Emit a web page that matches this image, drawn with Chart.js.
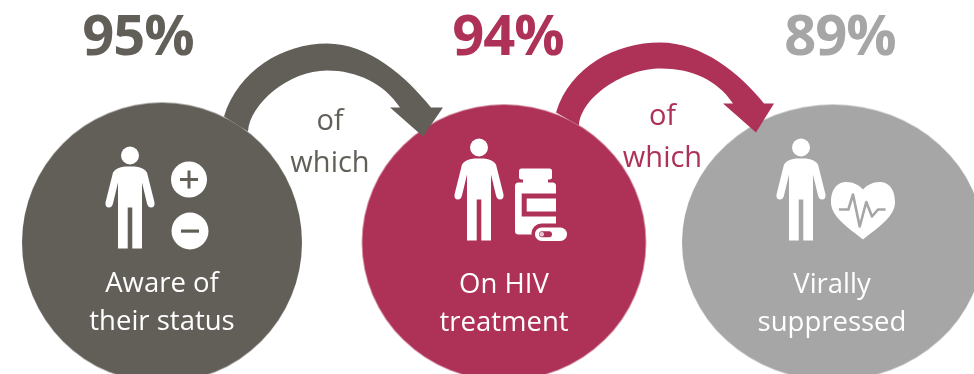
<!DOCTYPE html>
<html>
<head>
<meta charset="utf-8">
<title>HIV care cascade</title>
<script src="https://cdn.jsdelivr.net/npm/chart.js@4"></script>
<style>
  html, body { margin: 0; padding: 0; background: #fff; overflow: hidden; }
  canvas { display: block; }
</style>
</head>
<body>
<canvas id="cascadeChart" width="974" height="374"></canvas>
<script>
// ===== Cascade data =====
const stageNames = ["Aware", "Treatment", "Suppressed"];
const stagePercents = [95, 94, 89];
const stageLines = [
  ["Aware of", "their status"],
  ["On HIV", "treatment"],
  ["Virally", "suppressed"],
];
const connectorLines = ["of", "which"];

// ===== Styling =====
const DARK = "#625f58";
const ROSE = "#ae3157";
const GREY = "#a6a6a6";
const stageColors = [DARK, ROSE, GREY];
const FONT = '"Open Sans", sans-serif';

// Per stage offsets, measured from the point the scale gives each stage
const stageLayout = [
  { nudge: 0, rx: 140, ry: 140, pctDx: -24, labelDx: 0, labelDy: 49, personDx: -32, personDy: -87 },
  { nudge: 6.5, rx: 142, ry: 138, pctDx: 4, labelDx: 0, labelDy: 50, personDx: -25, personDy: -95 },
  { nudge: 0, rx: 151, ry: 138, pctDx: 7, labelDx: -1, labelDy: 50, personDx: -32, personDy: -95 },
];

// Curved connectors, relative to the centre of the stage they leave
const connectorShapes = [
  {
    start: [62, -126], top: [165, -199], outerEnd: [269, -135],
    barbRight: [281, -135], tip: [261, -106], barbLeft: [228, -135],
    innerEnd: [238, -135], innerTop: [165, -172], innerStart: [86, -111],
    textX: 168, ofY: -113, whichY: -71,
  },
  {
    start: [52, -130], top: [156, -200], outerEnd: [260, -139],
    barbRight: [270, -139], tip: [252, -110], barbLeft: [219, -139],
    innerEnd: [229, -139], innerTop: [157, -174], innerStart: [75, -117],
    textX: 158.5, ofY: -118, whichY: -76,
  },
];

// Stage circles are slightly squashed, so they go in as point images
function makeOval(color, layout) {
  const pad = Math.ceil(Math.abs(layout.nudge)) + 2;
  const canvas = document.createElement("canvas");
  canvas.width = (layout.rx + pad) * 2;
  canvas.height = (layout.ry + 2) * 2;
  const ctx = canvas.getContext("2d");
  ctx.fillStyle = color;
  ctx.beginPath();
  ctx.ellipse(canvas.width / 2 + layout.nudge, canvas.height / 2, layout.rx, layout.ry, 0, 0, Math.PI * 2);
  ctx.fill();
  return canvas;
}

// ===== Icons =====
function drawPerson(ctx, x, y) {
  ctx.save();
  ctx.translate(x, y);
  ctx.fillStyle = "#fff";
  ctx.beginPath();
  ctx.arc(0, 0, 9, 0, Math.PI * 2);
  ctx.fill();

  ctx.beginPath();
  ctx.moveTo(-5, 11);
  ctx.quadraticCurveTo(-14, 12, -17, 17);
  ctx.lineTo(-24.5, 47);
  ctx.quadraticCurveTo(-25, 52, -21, 52);
  ctx.quadraticCurveTo(-18, 52, -17, 48);
  ctx.lineTo(-12, 27);
  ctx.lineTo(-12, 93);
  ctx.lineTo(-2.3, 93);
  ctx.lineTo(-2.3, 52);
  ctx.lineTo(2.3, 52);
  ctx.lineTo(2.3, 93);
  ctx.lineTo(12, 93);
  ctx.lineTo(12, 27);
  ctx.lineTo(17, 48);
  ctx.quadraticCurveTo(18, 52, 21, 52);
  ctx.quadraticCurveTo(25, 52, 24.5, 47);
  ctx.lineTo(17, 17);
  ctx.quadraticCurveTo(14, 12, 5, 11);
  ctx.closePath();
  ctx.fill();
  ctx.restore();
}

function drawPlusMinus(ctx, cx, cy, color) {
  ctx.fillStyle = "#fff";
  ctx.beginPath();
  ctx.arc(cx + 27, cy - 63, 18, 0, Math.PI * 2);
  ctx.fill();
  ctx.beginPath();
  ctx.arc(cx + 28, cy - 11.5, 18.5, 0, Math.PI * 2);
  ctx.fill();
  ctx.fillStyle = color;
  ctx.fillRect(cx + 18, cy - 64.5, 18, 3);
  ctx.fillRect(cx + 25.5, cy - 72, 3, 18);
  ctx.fillRect(cx + 19, cy - 13, 18, 3.2);
}

function drawBottle(ctx, cx, cy, color) {
  ctx.fillStyle = "#fff";
  ctx.beginPath();
  ctx.roundRect(cx + 15, cy - 74, 33, 11, 2.5);
  ctx.fill();
  ctx.fillRect(cx + 19, cy - 64, 25, 6);
  ctx.beginPath();
  ctx.roundRect(cx + 11, cy - 60, 41, 52, 3.5);
  ctx.fill();
  // label window
  ctx.fillStyle = color;
  ctx.fillRect(cx + 17.7, cy - 49, 34.3, 23);
  ctx.fillStyle = "#fff";
  ctx.fillRect(cx + 22.7, cy - 44, 29.3, 13);
  // capsule with its halo
  ctx.fillStyle = color;
  ctx.beginPath();
  ctx.roundRect(cx + 27.5, cy - 19, 37, 20, 10);
  ctx.fill();
  ctx.fillStyle = "#fff";
  ctx.beginPath();
  ctx.roundRect(cx + 31, cy - 15, 32, 13.5, 6.7);
  ctx.fill();
  ctx.fillStyle = color;
  ctx.beginPath();
  ctx.roundRect(cx + 35, cy - 11.3, 13, 6, 3);
  ctx.fill();
  ctx.fillStyle = "#e8c6d1";
  ctx.beginPath();
  ctx.roundRect(cx + 35.5, cy - 10.5, 4.5, 4.4, 2);
  ctx.fill();
}

function drawHeart(ctx, cx, cy, color) {
  const ox = cx + 30;
  ctx.fillStyle = "#fff";
  ctx.beginPath();
  ctx.moveTo(ox, cy - 53);
  ctx.bezierCurveTo(ox - 8, cy - 63, ox - 32, cy - 67, ox - 32, cy - 40);
  ctx.bezierCurveTo(ox - 32, cy - 26, ox - 15, cy - 15, ox, cy - 3);
  ctx.bezierCurveTo(ox + 15, cy - 15, ox + 32, cy - 26, ox + 32, cy - 40);
  ctx.bezierCurveTo(ox + 32, cy - 67, ox + 8, cy - 63, ox, cy - 53);
  ctx.closePath();
  ctx.fill();

  // pulse trace across the heart
  const trace = [[-24, -33], [-14.6, -33], [-10, -48], [-3.3, -16], [3.3, -40.5], [9, -26], [15, -33], [22.6, -33]];
  ctx.strokeStyle = color;
  ctx.lineWidth = 2.6;
  ctx.lineJoin = "round";
  ctx.beginPath();
  trace.forEach(function (p, i) {
    if (i === 0) ctx.moveTo(ox + p[0], cy + p[1]);
    else ctx.lineTo(ox + p[0], cy + p[1]);
  });
  ctx.stroke();
}

function drawConnector(ctx, cx, cy, shape, color) {
  const px = function (p) { return cx + p[0]; };
  const py = function (p) { return cy + p[1]; };
  const s = shape;
  ctx.fillStyle = color;
  ctx.beginPath();
  ctx.moveTo(px(s.start), py(s.start));
  ctx.bezierCurveTo(px(s.start) + 14, py(s.start) - 46, px(s.top) - 44, py(s.top), px(s.top), py(s.top));
  ctx.bezierCurveTo(px(s.top) + 42, py(s.top), px(s.outerEnd) - 24, py(s.outerEnd) - 30, px(s.outerEnd), py(s.outerEnd));
  ctx.lineTo(px(s.barbRight), py(s.barbRight));
  ctx.lineTo(px(s.tip), py(s.tip));
  ctx.lineTo(px(s.barbLeft), py(s.barbLeft));
  ctx.lineTo(px(s.innerEnd), py(s.innerEnd));
  ctx.bezierCurveTo(px(s.innerEnd) - 16, py(s.innerEnd) - 24, px(s.innerTop) + 30, py(s.innerTop), px(s.innerTop), py(s.innerTop));
  ctx.bezierCurveTo(px(s.innerTop) - 38, py(s.innerTop), px(s.innerStart) + 2, py(s.innerStart) - 28, px(s.innerStart), py(s.innerStart));
  ctx.closePath();
  ctx.fill();
}

// Everything that sits on or around the stage points
const cascadeDecor = {
  id: "cascadeDecor",
  afterDatasetsDraw: function (chart) {
    const ctx = chart.ctx;
    const points = chart.getDatasetMeta(0).data;
    ctx.save();
    ctx.textAlign = "center";
    ctx.textBaseline = "alphabetic";

    points.forEach(function (point, i) {
      const layout = stageLayout[i];
      const cx = point.x + layout.nudge;
      const cy = point.y;

      ctx.fillStyle = stageColors[i];
      ctx.font = "bold 56px " + FONT;
      ctx.letterSpacing = "-1px";
      ctx.fillText(stagePercents[i] + "%", cx + layout.pctDx, 54.5);
      ctx.letterSpacing = "0px";

      ctx.fillStyle = "#fff";
      ctx.font = "27.5px " + FONT;
      stageLines[i].forEach(function (line, n) {
        ctx.fillText(line, cx + layout.labelDx, cy + layout.labelDy + n * 38);
      });

      drawPerson(ctx, cx + layout.personDx, cy + layout.personDy);
    });

    const first = points[0];
    const second = points[1];
    drawPlusMinus(ctx, first.x, first.y, DARK);
    drawBottle(ctx, second.x + stageLayout[1].nudge, second.y, ROSE);
    drawHeart(ctx, points[2].x, points[2].y, GREY);

    connectorShapes.forEach(function (shape, i) {
      const cx = points[i].x + stageLayout[i].nudge;
      const cy = points[i].y;
      drawConnector(ctx, cx, cy, shape, stageColors[i]);
      ctx.fillStyle = stageColors[i];
      ctx.font = "29px " + FONT;
      ctx.fillText(connectorLines[0], cx + shape.textX, cy + shape.ofY);
      ctx.fillText(connectorLines[1], cx + shape.textX, cy + shape.whichY);
    });
    ctx.restore();
  },
};

new Chart(document.getElementById("cascadeChart"), {
  type: "scatter",
  data: {
    labels: stageNames,
    datasets: [
      {
        data: stageNames.map(function (name) { return { x: name, y: 0 }; }),
        pointStyle: stageColors.map(function (color, i) { return makeOval(color, stageLayout[i]); }),
        clip: false,
      },
    ],
  },
  options: {
    responsive: false,
    animation: false,
    // top padding makes up for the few pixels Chart.js keeps free below the points
    layout: { padding: { left: 162, right: 141, top: 116, bottom: 0 } },
    plugins: { legend: { display: false }, tooltip: { enabled: false } },
    scales: {
      x: { type: "category", display: false, offset: false },
      y: { display: false, min: -1, max: 1 },
    },
  },
  plugins: [cascadeDecor],
});
</script>
</body>
</html>
